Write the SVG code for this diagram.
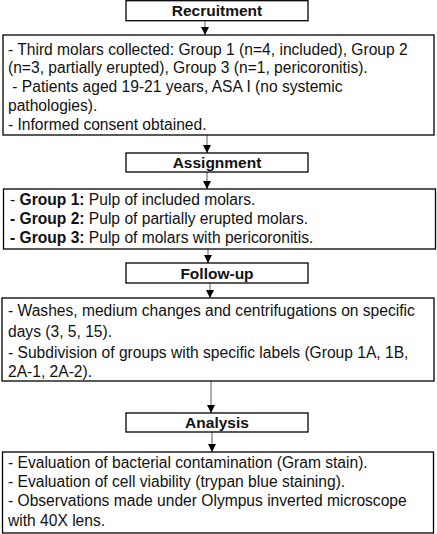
<svg xmlns="http://www.w3.org/2000/svg" width="437" height="534" viewBox="0 0 437 534">
<defs>
<style>
.box{fill:#fff;stroke:#000;stroke-width:1.3}
.h{font-family:"Liberation Sans",Arial,sans-serif;font-weight:bold;font-size:15.5px;fill:#111;text-anchor:middle}
.t{font-family:"Liberation Sans",Arial,sans-serif;font-size:15.6px;fill:#111}
.b{font-weight:bold}
.c{stroke:#808080;stroke-width:1.3;fill:none;marker-end:url(#ah)}
</style>
<marker id="ah" markerWidth="8" markerHeight="8" refX="8" refY="4" orient="auto" markerUnits="userSpaceOnUse">
<path d="M0,0 L8,4 L0,8 Z" fill="#000"/>
</marker>
</defs>
<rect width="437" height="534" fill="#fff"/>
<g id="connectors">
<line class="c" x1="205" y1="21" x2="205" y2="35"/>
<line class="c" x1="207" y1="135" x2="207" y2="153"/>
<line class="c" x1="207" y1="172" x2="207" y2="189"/>
<line class="c" x1="208" y1="249" x2="208" y2="263"/>
<line class="c" x1="210" y1="283" x2="210" y2="298"/>
<line class="c" x1="211" y1="381" x2="211" y2="413"/>
<line class="c" x1="212" y1="432" x2="212" y2="452"/>
</g>
<g id="recruitment">
<rect class="box" x="126" y="0.7" width="182" height="20"/>
<text class="h" x="217" y="16">Recruitment</text>
</g>
<g id="recruitment-details">
<rect class="box" x="3" y="35" width="431" height="100"/>
<text class="t" x="8" y="55">- Third molars collected: Group 1 (n=4, included), Group 2</text>
<text class="t" x="8" y="73">(n=3, partially erupted), Group 3 (n=1, pericoronitis).</text>
<text class="t" x="8" y="92" xml:space="preserve"> - Patients aged 19-21 years, ASA I (no systemic</text>
<text class="t" x="8" y="111">pathologies).</text>
<text class="t" x="8" y="130">- Informed consent obtained.</text>
</g>
<g id="assignment">
<rect class="box" x="126" y="153" width="182" height="19"/>
<text class="h" x="217" y="167.5">Assignment</text>
</g>
<g id="assignment-details">
<rect class="box" x="3.5" y="189" width="432" height="60"/>
<text class="t" x="10" y="205">- <tspan class="b">Group 1:</tspan> Pulp of included molars.</text>
<text class="t" x="10" y="224"><tspan class="b">- Group 2:</tspan> Pulp of partially erupted molars.</text>
<text class="t" x="10" y="243"><tspan class="b">- Group 3:</tspan> Pulp of molars with pericoronitis.</text>
</g>
<g id="follow-up">
<rect class="box" x="126" y="263" width="182" height="20"/>
<text class="h" x="217" y="278.5">Follow-up</text>
</g>
<g id="follow-up-details">
<rect class="box" x="2" y="298" width="432" height="83"/>
<text class="t" x="8" y="316">- Washes, medium changes and centrifugations on specific</text>
<text class="t" x="8" y="337">days (3, 5, 15).</text>
<text class="t" x="8" y="358">- Subdivision of groups with specific labels (Group 1A, 1B,</text>
<text class="t" x="8" y="377">2A-1, 2A-2).</text>
</g>
<g id="analysis">
<rect class="box" x="126" y="413" width="182" height="19"/>
<text class="h" x="217" y="427.5">Analysis</text>
</g>
<g id="analysis-details">
<rect class="box" x="2.5" y="452" width="431" height="81"/>
<text class="t" x="8" y="468">- Evaluation of bacterial contamination (Gram stain).</text>
<text class="t" x="8" y="487">- Evaluation of cell viability (trypan blue staining).</text>
<text class="t" x="8" y="506">- Observations made under Olympus inverted microscope</text>
<text class="t" x="8" y="526">with 40X lens.</text>
</g>
</svg>
